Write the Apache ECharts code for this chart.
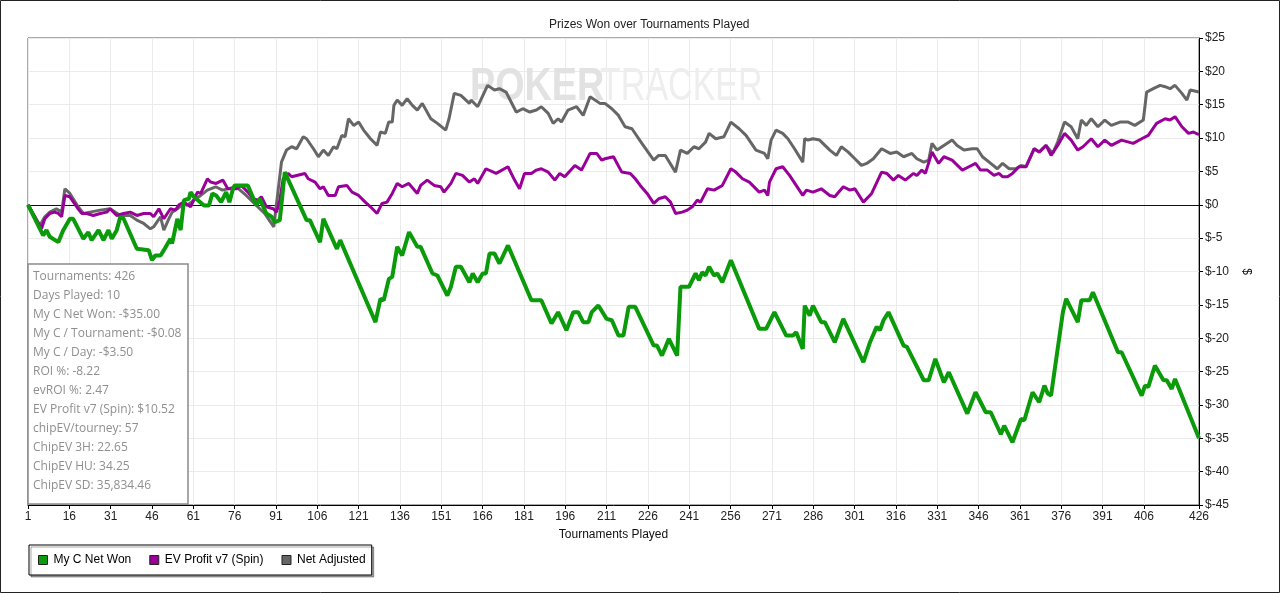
<!DOCTYPE html>
<html>
<head>
<meta charset="utf-8">
<script src="https://cdn.jsdelivr.net/npm/echarts@6/dist/echarts.min.js"></script>
<style>
html,body{margin:0;padding:0;background:#fff;}
#chart{width:1280px;height:593px;}
</style>
</head>
<body>
<div id="chart"></div>
<script>
// ---------- DATA ----------
const seriesNames = ['My C Net Won', 'EV Profit v7 (Spin)', 'Net Adjusted'];
const xTicks = [1,16,31,46,61,76,91,106,121,136,151,166,181,196,211,226,241,256,271,286,301,316,331,346,361,376,391,406,426];
const yTicks = [-45,-40,-35,-30,-25,-20,-15,-10,-5,0,5,10,15,20,25];

const netWonT = [1,6.5,7.7,8.9,12.0,13.8,16.2,17.4,21.1,22.9,24.1,26.6,28.4,30.2,31.4,33.2,34.5,35.7,40.5,44.8,46.0,47.2,49.1,50.3,52.7,53.3,55.2,56.4,57.6,59.4,60.0,61.2,64.9,66.7,67.9,69.3,71.1,72.9,74.1,75.4,76.0,80.8,83.9,85.1,87.5,89.4,90.6,92.4,94.2,102.1,103.3,107.0,108.2,113.1,114.3,127.1,128.9,130.1,132.0,133.2,135.0,136.8,139.3,142.3,143.5,147.8,149.6,153.2,154.5,156.3,158.1,161.2,162.4,164.2,166.0,167.2,168.5,170.3,172.1,175.2,183.7,187.3,191.0,193.4,196.4,198.9,200.7,202.5,204.4,205.6,208.0,211.0,212.9,215.3,217.1,219.0,221.4,228.1,229.3,231.1,233.6,236.6,237.8,240.9,243.3,244.5,245.7,246.9,248.2,250.0,251.2,253.0,256.1,266.4,268.9,270.7,271.9,276.2,278.6,279.8,282.2,282.9,284.7,285.9,288.9,290.2,293.8,296.9,304.2,306.6,309.0,310.2,311.5,313.3,318.8,320.0,326.1,327.9,330.3,333.4,335.2,341.9,344.9,348.6,350.4,354.1,355.3,358.3,361.4,362.6,365.6,368.0,369.9,371.1,372.3,376.6,377.8,382.0,383.3,386.3,387.5,396.6,397.9,405.2,406.4,407.6,410.0,413.1,414.3,416.1,417.3,426];
const netWonV = [0,-4.6,-3.8,-4.8,-5.6,-3.8,-2.1,-2.1,-5.1,-4.1,-5.3,-3.8,-5.3,-3.8,-5.1,-3.8,-1.8,-2.1,-6.6,-6.8,-8.3,-7.6,-7.6,-6.8,-5.1,-5.8,-2.1,-3.8,0.7,0.9,1.9,1.2,-0.1,-0.1,1.7,1.4,0.4,1.9,0.4,2.4,2.9,2.9,-0.1,0.9,-1.3,-1.8,-2.6,-2.3,4.9,-2.3,-2.3,-5.6,-2.1,-6.6,-5.3,-17.6,-14.1,-14.3,-11.1,-10.8,-6.3,-7.6,-4.1,-6.3,-6.3,-10.3,-10.6,-13.6,-12.3,-9.3,-9.3,-11.6,-10.3,-11.6,-10.3,-10.3,-7.3,-7.3,-8.8,-6.1,-14.3,-14.3,-17.8,-16.1,-18.8,-16.1,-16.1,-17.6,-17.6,-16.1,-15.1,-17.1,-17.3,-19.6,-19.6,-15.3,-15.3,-21.1,-21.1,-22.6,-20.1,-22.6,-12.3,-12.3,-10.3,-11.3,-10.1,-10.6,-9.3,-10.6,-10.3,-11.6,-8.3,-18.6,-18.6,-17.1,-16.1,-19.6,-19.6,-19.1,-21.6,-15.1,-16.6,-15.1,-17.6,-17.6,-20.6,-17.1,-23.6,-20.6,-18.3,-18.8,-17.3,-16.1,-21.1,-21.3,-26.3,-26.3,-23.1,-26.6,-25.1,-31.3,-28.1,-31.1,-31.1,-34.4,-33.1,-35.6,-32.1,-32.3,-28.1,-29.6,-27.1,-28.3,-28.6,-16.1,-14.1,-17.6,-14.3,-14.3,-13.1,-22.1,-22.1,-28.6,-27.1,-27.3,-24.1,-26.3,-26.3,-27.6,-26.1,-35.0];

const evProfitT = [1,5.9,7.1,8.9,10.7,12.0,13.2,14.4,16.2,19.2,20.5,22.3,24.7,27.2,29.6,30.8,33.2,35.7,38.1,40.5,43.0,45.4,46.6,48.5,50.3,52.7,54.5,55.8,57.6,60.0,62.5,63.7,66.1,67.3,69.3,71.7,73.5,76.6,78.4,80.8,82.7,84.5,85.7,87.5,90.0,91.2,92.4,93.6,95.4,96.7,98.5,101.5,102.7,105.2,107.0,108.2,110.0,112.5,113.7,116.7,118.6,121.0,123.4,125.3,127.7,129.5,131.3,133.2,135.0,136.8,139.2,142.3,143.5,145.9,148.4,150.8,152.0,154.5,156.3,158.7,161.2,163.0,164.2,167.2,170.9,175.2,177.6,179.4,181.2,183.7,185.5,187.3,189.8,192.2,194.0,195.8,199.5,201.9,205.0,207.4,209.2,210.4,213.5,216.5,219.6,221.4,223.2,225.7,228.1,229.9,232.3,234.2,236.0,238.4,240.3,242.1,243.9,245.1,247.6,250.0,253.0,256.1,257.9,260.3,262.8,266.4,268.3,269.5,270.1,272.5,274.9,277.4,279.8,282.2,283.5,285.9,288.9,292.0,293.8,296.9,299.3,301.1,304.2,307.2,310.8,312.7,315.1,316.9,319.4,322.4,323.6,325.4,326.7,329.1,331.5,333.4,336.4,340.1,342.5,344.9,346.7,349.2,351.6,353.4,354.7,356.5,358.3,360.7,363.2,366.2,368.0,370.5,372.3,374.7,377.2,379.6,382.0,383.9,386.9,389.3,391.8,394.2,397.9,402.1,405.2,407.6,410.6,413.7,415.5,417.3,419.8,422.2,424.0,426];
const evProfitV = [0,-3.6,-2.1,-1.3,-1.1,-1.3,-1.8,1.4,1.2,-0.6,-1.3,-1.3,-1.6,-1.3,-1.1,-0.6,-1.6,-1.3,-1.1,-1.6,-1.3,-1.3,-1.8,-0.6,-2.1,-0.6,-0.8,0.0,0.4,-0.3,1.9,1.7,3.9,3.4,3.2,3.7,2.4,2.4,2.9,1.9,0.9,0.7,1.2,-0.3,-0.6,-1.1,0.7,3.9,4.7,4.2,4.4,4.7,3.9,3.4,2.4,2.7,1.4,1.4,2.7,2.9,1.9,1.4,0.4,-0.3,-1.3,0.2,0.4,1.7,3.2,2.7,3.2,1.7,2.9,3.7,2.9,2.7,1.9,3.2,4.7,4.4,3.4,3.9,3.2,5.4,4.7,5.7,3.7,2.4,4.7,4.7,5.2,5.4,4.9,3.7,4.7,4.2,5.9,5.2,7.7,7.7,6.7,6.9,7.2,4.9,4.7,3.9,2.9,1.7,0.2,0.9,1.2,0.4,-1.3,-1.1,-0.8,-0.3,0.7,0.4,2.4,2.2,2.9,5.4,4.9,3.9,3.4,1.9,2.2,1.4,3.4,5.4,5.7,4.4,2.9,1.4,2.2,1.9,2.4,1.4,1.2,2.7,2.2,2.4,0.4,1.7,4.9,4.7,3.7,4.4,3.7,4.7,4.4,5.2,4.7,7.9,6.2,7.2,6.7,5.2,5.7,6.2,5.2,5.2,4.4,4.7,4.2,4.2,4.7,5.7,5.7,8.4,7.9,8.9,7.4,8.9,10.7,9.7,8.2,8.7,9.9,8.7,9.7,8.9,9.7,9.2,9.9,10.4,12.2,12.9,12.7,13.2,11.7,10.7,10.9,10.5];

const netAdjT = [1,5.3,7.1,8.9,11.3,13.2,14.4,16.2,19.2,21.1,23.5,27.2,30.8,34.5,38.1,40.5,43.0,45.4,46.6,49.1,50.3,52.1,53.3,55.2,57.6,58.8,61.2,63.7,66.1,69.1,71.6,76.6,80.2,83.9,86.9,90.2,93.0,94.8,96.7,98.5,100.9,102.1,104.6,106.4,108.2,110.0,111.9,113.1,114.9,116.1,117.3,119.2,121.0,122.8,125.3,127.7,128.9,130.7,131.9,133.2,133.8,135.0,136.8,138.6,140.5,142.3,144.1,147.2,149.6,152.6,153.8,155.7,158.1,161.2,161.8,164.2,167.8,170.3,172.1,174.5,178.2,180.6,183.1,185.5,187.3,189.8,191.6,193.4,194.6,197.0,200.1,202.5,205.0,208.6,210.4,212.9,215.3,217.7,220.2,223.8,228.1,229.9,232.3,236.0,237.8,240.3,242.7,244.5,246.9,248.2,250.6,253.6,256.1,259.1,261.6,265.2,268.3,269.5,270.7,272.5,274.9,276.8,279.2,282.2,282.9,284.1,285.9,288.3,292.0,294.4,296.2,298.7,301.1,303.5,305.4,307.8,310.8,313.9,316.3,318.8,321.8,323.6,326.1,327.9,329.1,330.9,333.4,336.4,338.2,340.7,343.7,345.5,347.4,350.4,352.8,354.7,357.1,359.5,361.4,363.2,366.2,368.0,370.5,372.9,374.7,377.2,379.6,382.0,383.3,385.1,386.9,389.3,391.8,394.2,397.3,400.3,402.7,405.8,407.0,409.4,411.9,413.7,415.5,417.3,419.8,421.6,422.8,426];
const netAdjV = [0,-3.1,-1.8,-1.1,-0.6,-1.1,2.4,1.7,-0.3,-1.3,-1.1,-0.8,-0.6,-1.6,-1.6,-2.3,-2.8,-3.6,-3.3,-1.8,-3.8,-2.1,-1.1,-0.6,0.2,-0.1,0.7,1.4,2.2,2.7,2.2,2.7,1.4,-0.1,-1.3,-3.3,6.4,8.2,8.7,8.4,10.2,9.9,8.4,7.2,8.2,7.4,8.7,8.4,10.4,10.2,12.9,11.9,12.4,11.2,9.9,8.9,10.9,10.7,12.4,12.4,14.9,15.7,14.9,15.9,14.9,14.2,15.2,12.9,12.2,11.2,12.9,16.7,16.4,15.2,15.7,14.7,17.9,17.2,17.4,16.9,13.9,14.4,13.9,14.2,14.7,13.7,12.2,12.9,12.4,14.2,14.7,13.4,16.2,15.2,15.2,14.4,13.4,11.7,11.4,9.2,6.7,7.4,7.4,4.9,8.2,7.7,8.7,8.4,9.4,10.7,9.9,10.2,12.4,11.4,10.4,8.2,7.7,6.9,9.7,11.2,10.7,9.9,8.4,6.4,9.9,9.7,9.9,9.7,8.2,7.4,8.7,7.9,6.9,5.9,6.2,6.9,8.4,7.7,7.9,7.2,7.7,6.9,6.4,6.7,9.2,8.2,8.9,9.7,8.9,8.2,8.4,8.4,7.2,6.2,5.4,6.2,5.4,5.4,5.9,5.7,8.4,7.9,8.9,7.7,9.4,12.4,11.7,9.9,12.7,11.9,12.9,11.7,12.7,11.9,12.4,12.4,11.9,12.7,16.9,17.4,17.9,17.7,17.4,17.9,16.7,15.7,17.2,16.9];

const infoLines = [
  'Tournaments: 426',
  'Days Played: 10',
  'My C Net Won: -$35.00',
  'My C / Tournament: -$0.08',
  'My C / Day: -$3.50',
  'ROI %: -8.22',
  'evROI %: 2.47',
  'EV Profit v7 (Spin): $10.52',
  'chipEV/tourney: 57',
  'ChipEV 3H: 22.65',
  'ChipEV HU: 34.25',
  'ChipEV SD: 35,834.46'
];
// ------------------------------------------------------------

const pairs = (ts, vs) => ts.map((t, i) => [t, vs[i]]);
const FONT = '"Liberation Sans", Arial, sans-serif';

const chart = echarts.init(document.getElementById('chart'), null, {renderer: 'canvas'});

const infoChildren = [{
  type: 'rect', z: 60, silent: true,
  shape: {x: 0, y: 0, width: 160, height: 240},
  style: {fill: '#ffffff', stroke: '#8a8a8a', lineWidth: 1.5}
}];
infoLines.forEach((line, i) => {
  infoChildren.push({
    type: 'text', z: 61, silent: true,
    x: 5, y: 12.5 + i * 19,
    style: {text: line, fill: '#8f8f8f', font: '12px "Open Sans", "Noto Sans", sans-serif', textVerticalAlign: 'middle'}
  });
});

const option = {
  animation: false,
  backgroundColor: '#fff',
  title: {
    text: 'Prizes Won over Tournaments Played',
    left: 544, top: 14,
    textStyle: {fontSize: 12, fontWeight: 'normal', color: '#222', fontFamily: FONT}
  },
  legend: {
    data: seriesNames,
    left: 29, top: 545,
    orient: 'horizontal',
    icon: 'rect',
    itemWidth: 9, itemHeight: 9,
    itemGap: 18,
    padding: [9, 6, 9, 9],
    borderColor: '#000', borderWidth: 1,
    backgroundColor: '#fff',
    shadowColor: 'rgba(0,0,0,0.35)', shadowOffsetX: 2, shadowOffsetY: 2, shadowBlur: 0,
    itemStyle: {borderColor: '#222', borderWidth: 1},
    textStyle: {fontSize: 12, color: '#000', fontFamily: FONT, padding: [0, 0, 0, 1]}
  },
  grid: {
    left: 28, right: 81, top: 38, bottom: 88,
    show: true, borderColor: '#555', borderWidth: 1, backgroundColor: '#fff'
  },
  xAxis: {
    type: 'value',
    min: 1, max: 426, interval: 15,
    name: 'Tournaments Played',
    nameLocation: 'middle', nameGap: 24,
    nameTextStyle: {fontSize: 12, color: '#111', fontFamily: FONT},
    axisLine: {show: true, onZero: false, lineStyle: {color: '#000', width: 1}},
    axisTick: {show: true, length: 4, customValues: xTicks, lineStyle: {color: '#000'}},
    axisLabel: {show: true, customValues: xTicks, margin: 6, fontSize: 12, color: '#222', fontFamily: FONT},
    splitLine: {show: true, lineStyle: {color: '#ebebeb', width: 1}}
  },
  yAxis: {
    type: 'value',
    position: 'right',
    min: -45, max: 25, interval: 5,
    name: '$',
    nameLocation: 'middle', nameGap: 40, nameRotate: -90,
    nameTextStyle: {fontSize: 12, color: '#111', fontFamily: FONT},
    axisLine: {show: true, lineStyle: {color: '#000', width: 1}},
    axisTick: {show: true, length: 4, lineStyle: {color: '#000'}},
    axisLabel: {
      customValues: yTicks,
      margin: 6, fontSize: 12, color: '#222', fontFamily: FONT,
      formatter: v => '$' + v
    },
    splitLine: {show: true, lineStyle: {color: '#ebebeb', width: 1}}
  },
  graphic: [
    {
      type: 'rect', z: 100, silent: true,
      shape: {x: 0.5, y: 0.5, width: 1279, height: 592},
      style: {fill: 'none', stroke: '#222', lineWidth: 1}
    },
    {
      type: 'text', z: 1, silent: true,
      x: 470, y: 87, scaleX: 0.82,
      style: {text: 'POKER', fill: '#e2e2e2', font: 'bold 46px "Liberation Sans", Arial, sans-serif', textVerticalAlign: 'middle'}
    },
    {
      type: 'text', z: 1, silent: true,
      x: 600, y: 87, scaleX: 0.74,
      style: {text: 'TRACKER', fill: '#eeeeee', font: '46px "Liberation Sans", Arial, sans-serif', textVerticalAlign: 'middle'}
    },
    {
      type: 'group', x: 28, y: 264, z: 60,
      children: infoChildren
    }
  ],
  series: [
    {
      name: seriesNames[0], type: 'line', z: 5,
      data: pairs(netWonT, netWonV),
      showSymbol: false, symbol: 'none',
      lineStyle: {color: '#0a9a0a', width: 4},
      itemStyle: {color: '#0a9a0a'}
    },
    {
      name: seriesNames[1], type: 'line', z: 4,
      data: pairs(evProfitT, evProfitV),
      showSymbol: false, symbol: 'none',
      lineStyle: {color: '#990099', width: 3},
      itemStyle: {color: '#990099'}
    },
    {
      name: seriesNames[2], type: 'line', z: 3,
      data: pairs(netAdjT, netAdjV),
      showSymbol: false, symbol: 'none',
      lineStyle: {color: '#666666', width: 3},
      itemStyle: {color: '#666666'},
      markLine: {
        silent: true, symbol: ['none', 'none'], z: 2,
        label: {show: false},
        lineStyle: {color: '#111', width: 1, type: 'solid'},
        data: [{yAxis: 0}]
      }
    }
  ]
};
chart.setOption(option);
</script>
</body>
</html>
